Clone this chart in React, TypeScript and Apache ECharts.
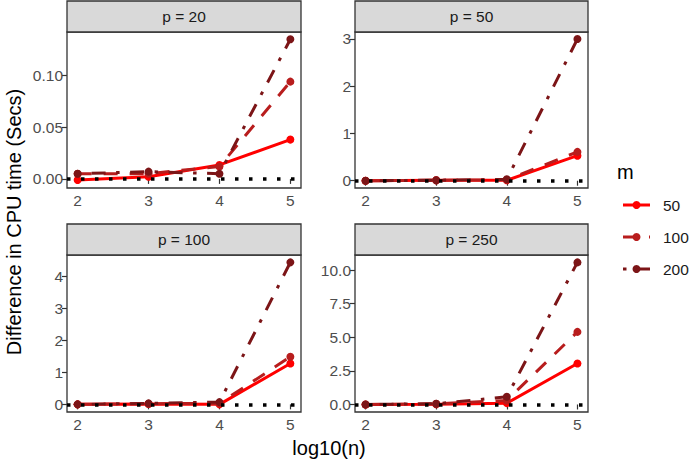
import React, { useEffect, useRef } from "react";
import * as echarts from "echarts";

// Simulation results: CPU-time difference (secs) by log10(n), per p and m
const logN = [2, 3, 4, 5];
const mLevels = ["50", "100", "200"];
const panelTitles = ["p = 20", "p = 50", "p = 100", "p = 250"];

const p20 = {
  m50: [-0.001, 0.002, 0.0135, 0.038],
  m100: [0.005, 0.005, 0.012, 0.094],
  m200: [0.005, 0.007, 0.005, 0.135],
};
const p50 = {
  m50: [0.0, 0.01, 0.01, 0.53],
  m100: [0.0, 0.01, 0.02, 0.61],
  m200: [0.0, 0.01, 0.03, 3.0],
};
const p100 = {
  m50: [0.0, 0.01, 0.0, 1.28],
  m100: [0.0, 0.02, 0.03, 1.49],
  m200: [0.0, 0.03, 0.07, 4.45],
};
const p250 = {
  m50: [0.0, 0.02, 0.1, 3.05],
  m100: [0.0, 0.05, 0.3, 5.4],
  m200: [0.0, 0.05, 0.57, 10.57],
};

const xTicks = [2, 3, 4, 5];
const yTicks20 = [0, 0.05, 0.1];
const yTicks50 = [0, 1, 2, 3];
const yTicks100 = [0, 1, 2, 3, 4];
const yTicks250 = [0, 2.5, 5, 7.5, 10];

const panelData = [p20, p50, p100, p250];
const panelTicks = [yTicks20, yTicks50, yTicks100, yTicks250];
const panelDecimals = [2, 0, 0, 1];
const panelRanges: [number, number][] = [
  [-0.0088, 0.142],
  [-0.154, 3.148],
  [-0.24, 4.68],
  [-0.56, 11.12],
];

const colors = ["#FF0000", "#B81D1D", "#7C1517"];
const dashes: any[] = ["solid", [14, 12], [3.5, 10.5, 14, 10.5]];
const font = "Liberation Sans, Arial, sans-serif";

// panel boxes in pixels
const boxes = [
  { left: 67, top: 32, width: 234, height: 156 },
  { left: 355, top: 32, width: 233, height: 156 },
  { left: 67, top: 255, width: 234, height: 157 },
  { left: 355, top: 255, width: 233, height: 157 },
];
const stripH = 31;
const legendRows = [205, 237, 269];

export default function App() {
  const ref = useRef<HTMLDivElement>(null);

  useEffect(() => {
    if (!ref.current) return;
    const chart = echarts.init(ref.current, undefined, { renderer: "svg" });

    const grid = boxes.map((b) => ({
      left: b.left,
      top: b.top,
      width: b.width,
      height: b.height,
      show: true,
      borderColor: "#333333",
      borderWidth: 1.3,
      backgroundColor: "#FFFFFF",
      containLabel: false,
    }));

    const xAxis = boxes.map((_, i) => ({
      type: "value",
      gridIndex: i,
      min: 1.85,
      max: 5.15,
      axisLine: { show: false },
      splitLine: { show: false },
      axisTick: {
        show: true,
        length: 5,
        lineStyle: { color: "#333333", width: 1.2 },
        customValues: xTicks,
      },
      axisLabel: {
        show: true,
        margin: 4,
        color: "#4D4D4D",
        fontSize: 15.5,
        fontFamily: font,
        customValues: xTicks,
        formatter: (v: number) => String(v),
      },
    }));

    const yAxis = boxes.map((_, i) => ({
      type: "value",
      gridIndex: i,
      min: panelRanges[i][0],
      max: panelRanges[i][1],
      axisLine: { show: false },
      splitLine: { show: false },
      axisTick: {
        show: true,
        length: 5,
        lineStyle: { color: "#333333", width: 1.2 },
        customValues: panelTicks[i],
      },
      axisLabel: {
        show: true,
        margin: 4,
        color: "#4D4D4D",
        fontSize: 15.5,
        fontFamily: font,
        customValues: panelTicks[i],
        formatter: (v: number) => v.toFixed(panelDecimals[i]),
      },
    }));

    const series: any[] = [];
    panelData.forEach((pd: any, i) => {
      mLevels.forEach((m, k) => {
        const vals: number[] = pd["m" + m];
        series.push({
          type: "line",
          name: m,
          xAxisIndex: i,
          yAxisIndex: i,
          data: logN.map((x, j) => [x, vals[j]]),
          symbol: "circle",
          symbolSize: 8,
          showSymbol: true,
          itemStyle: { color: colors[k] },
          lineStyle: { color: colors[k], width: 3, type: dashes[k], cap: "butt" },
          z: 2 + k,
        });
      });
      // dotted reference line at zero, on top
      series.push({
        type: "line",
        xAxisIndex: i,
        yAxisIndex: i,
        data: [],
        z: 10,
        markLine: {
          silent: true,
          symbol: "none",
          label: { show: false },
          lineStyle: { color: "#000000", width: 3.5, type: [3.5, 10.5], cap: "butt" },
          data: [{ yAxis: 0 }],
        },
      });
    });

    const graphic: any[] = [];
    boxes.forEach((b, i) => {
      graphic.push({
        type: "rect",
        shape: { x: b.left, y: b.top - stripH, width: b.width, height: stripH },
        style: { fill: "#D9D9D9", stroke: "#333333", lineWidth: 1.3 },
      });
      graphic.push({
        type: "text",
        x: b.left + b.width / 2,
        y: b.top - stripH / 2,
        style: {
          text: panelTitles[i],
          fill: "#1A1A1A",
          font: `15.5px ${font}`,
          textAlign: "center",
          textVerticalAlign: "middle",
        },
      });
    });
    graphic.push({
      type: "text",
      x: 329,
      y: 448,
      style: {
        text: "log10(n)",
        fill: "#000000",
        font: `20px ${font}`,
        textAlign: "center",
        textVerticalAlign: "middle",
      },
    });
    graphic.push({
      type: "text",
      x: 14,
      y: 222,
      rotation: Math.PI / 2,
      style: {
        text: "Difference in CPU time (Secs)",
        fill: "#000000",
        font: `20px ${font}`,
        textAlign: "center",
        textVerticalAlign: "middle",
      },
    });
    graphic.push({
      type: "text",
      x: 617,
      y: 172,
      style: {
        text: "m",
        fill: "#000000",
        font: `20px ${font}`,
        textAlign: "left",
        textVerticalAlign: "middle",
      },
    });
    // legend keys: line sample, point and label for each m
    mLevels.forEach((m, k) => {
      const y = legendRows[k];
      graphic.push({
        type: "line",
        shape: { x1: 623, y1: y, x2: 650, y2: y },
        style: {
          stroke: colors[k],
          lineWidth: 3,
          lineDash: k === 0 ? null : k === 1 ? [14, 12] : [3.5, 7, 17, 10],
          lineCap: "butt",
        },
      });
      graphic.push({
        type: "circle",
        shape: { cx: 636.5, cy: y, r: 4 },
        style: { fill: colors[k] },
      });
      graphic.push({
        type: "text",
        x: 663,
        y,
        style: {
          text: m,
          fill: "#1A1A1A",
          font: `15.5px ${font}`,
          textAlign: "left",
          textVerticalAlign: "middle",
        },
      });
    });

    chart.setOption({
      animation: false,
      backgroundColor: "#FFFFFF",
      grid,
      xAxis,
      yAxis,
      series,
      graphic,
    });

    return () => chart.dispose();
  }, []);

  return <div ref={ref} style={{ width: 691, height: 462, position: "absolute", left: 0, top: 0 }} />;
}
